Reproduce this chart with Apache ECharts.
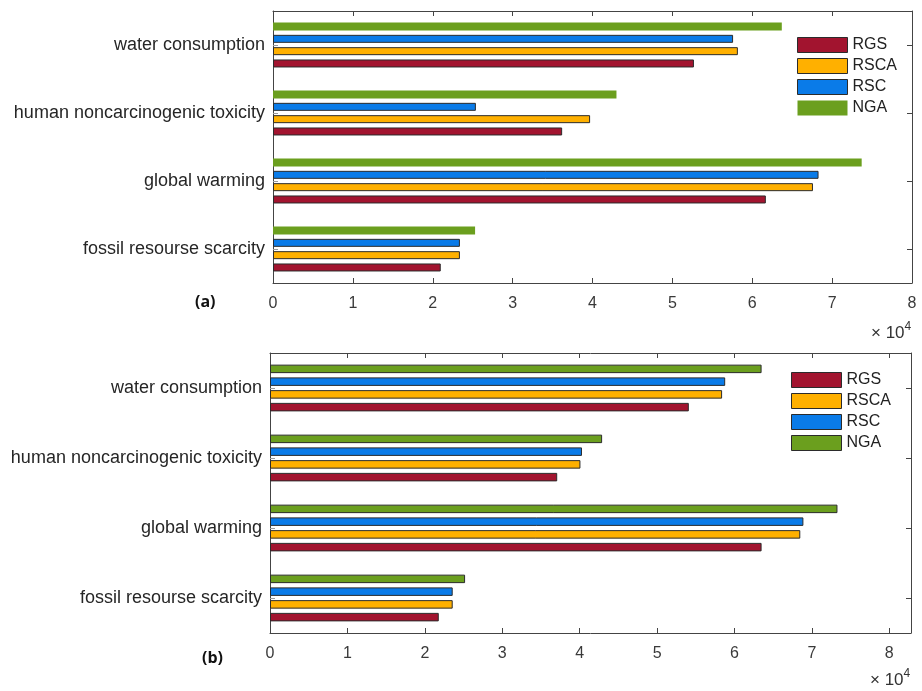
<!DOCTYPE html>
<html>
<head>
<meta charset="utf-8">
<title>Impact categories</title>
<script src="https://cdn.jsdelivr.net/npm/echarts@6/dist/echarts.min.js"></script>
<style>
  html, body { margin: 0; padding: 0; background: #fff; }
  #chart { width: 922px; height: 691px; }
</style>
</head>
<body>
<div id="chart"></div>
<script>
// Impact categories, listed bottom to top as drawn on the category axis
const categories = ['fossil resourse scarcity', 'global warming', 'human noncarcinogenic toxicity', 'water consumption'];
const seriesNames = ['RGS', 'RSCA', 'RSC', 'NGA'];
const seriesColors = ['#A2142F', '#FFB000', '#0A7BE8', '#6B9F1E'];

// Panel (a)
const rgsA  = [21000, 61700, 36200, 52700];
const rscaA = [23400, 67600, 39700, 58200];
const rscA  = [23400, 68300, 25400, 57600];
const ngaA  = [25300, 73700, 43000, 63700];

// Panel (b)
const rgsB  = [21800, 63500, 37100, 54100];
const rscaB = [23600, 68500, 40100, 58400];
const rscB  = [23600, 68900, 40300, 58800];
const ngaB  = [25200, 73300, 42900, 63500];

const xTicks = [0, 1, 2, 3, 4, 5, 6, 7, 8];
const panelLabels = ['(a)', '(b)'];

const axisColor = '#444';
const edgeColor = '#2b2b2b';
const fontFamily = '"Liberation Sans", Arial, sans-serif';

function valueAxis(gridIndex, max, position, showLabels) {
  return {
    type: 'value', gridIndex, position, min: 0, max, interval: 10000,
    axisLine: { show: true, onZero: false, lineStyle: { color: axisColor, width: 1 } },
    axisTick: { show: true, inside: true, length: 5, lineStyle: { color: axisColor } },
    splitLine: { show: false },
    axisLabel: {
      show: showLabels, margin: 13, color: '#3a3a3a', fontSize: 16, fontFamily,
      showMaxLabel: max % 10000 === 0,
      formatter: v => (xTicks.includes(v / 10000) ? String(v / 10000) : '')
    }
  };
}

function categoryAxis(gridIndex, position, showLabels) {
  return {
    type: 'category', gridIndex, position, data: categories,
    axisLine: { show: true, onZero: false, lineStyle: { color: axisColor, width: 1 } },
    axisTick: { show: true, inside: true, length: 5, alignWithLabel: true,
                lineStyle: { color: position === 'left' ? '#9a9a9a' : axisColor } },
    axisLabel: { show: showLabels, margin: 8, color: '#262626', fontSize: 18, fontFamily }
  };
}

function barSeries(name, data, gridIndex, withEdge, barWidth, barGap) {
  const idx = seriesNames.indexOf(name);
  return {
    type: 'bar', name, data,
    xAxisIndex: gridIndex * 2, yAxisIndex: gridIndex * 2,
    barWidth, barGap,
    itemStyle: {
      color: seriesColors[idx],
      borderColor: withEdge ? edgeColor : 'transparent',
      borderWidth: withEdge ? 1 : 0
    },
    emphasis: { disabled: true },
    animation: false
  };
}

function legendFor(left, top, ngaEdge) {
  return {
    orient: 'vertical', left, top, padding: 0,
    itemWidth: 50, itemHeight: 15, itemGap: 5,
    selectedMode: false,
    textStyle: { fontSize: 16, color: '#222', fontFamily, lineHeight: 15 },
    data: seriesNames.map((n, i) => ({
      name: n,
      icon: 'rect',
      itemStyle: {
        color: seriesColors[i],
        borderColor: (i < 3 || ngaEdge) ? edgeColor : 'transparent',
        borderWidth: (i < 3 || ngaEdge) ? 1 : 0
      }
    }))
  };
}

function exponentLabel(left, top) {
  return {
    type: 'text', left, top,
    style: {
      text: '{b|× 10}{s|4}',
      rich: {
        b: { fontSize: 17, fill: '#333', fontFamily, verticalAlign: 'bottom' },
        s: { fontSize: 12, fill: '#333', fontFamily, verticalAlign: 'top', padding: [0, 0, 9, 0] }
      }
    }
  };
}

const chart = echarts.init(document.getElementById('chart'), null, { renderer: 'canvas' });

// Within a group the first series is drawn at the top, so NGA comes first
chart.setOption({
  backgroundColor: '#fff',
  animation: false,
  grid: [
    { left: 273, top: 11, width: 639, height: 272, show: false },
    { left: 270, top: 353, width: 641, height: 280, show: false }
  ],
  xAxis: [
    valueAxis(0, 80000, 'bottom', true),
    valueAxis(0, 80000, 'top', false),
    valueAxis(1, 82800, 'bottom', true),
    valueAxis(1, 82800, 'top', false)
  ],
  yAxis: [
    categoryAxis(0, 'left', true),
    categoryAxis(0, 'right', false),
    categoryAxis(1, 'left', true),
    categoryAxis(1, 'right', false)
  ],
  legend: [
    legendFor(797, 37, false),
    legendFor(791, 372, true)
  ],
  series: [
    barSeries('NGA',  ngaA,  0, false, 8,   '54%'),
    barSeries('RSC',  rscA,  0, true,  8,   '54%'),
    barSeries('RSCA', rscaA, 0, true,  8,   '54%'),
    barSeries('RGS',  rgsA,  0, true,  8,   '54%'),
    barSeries('NGA',  ngaB,  1, true,  8.5, '50%'),
    barSeries('RSC',  rscB,  1, true,  8.5, '50%'),
    barSeries('RSCA', rscaB, 1, true,  8.5, '50%'),
    barSeries('RGS',  rgsB,  1, true,  8.5, '50%')
  ],
  graphic: [
    { type: 'text', left: 195, top: 294,
      style: { text: panelLabels[0], fontSize: 16, fontWeight: 'bold', fill: '#111', fontFamily: '"Open Sans", sans-serif' } },
    { type: 'text', left: 202, top: 650,
      style: { text: panelLabels[1], fontSize: 16, fontWeight: 'bold', fill: '#111', fontFamily: '"Open Sans", sans-serif' } },
    exponentLabel(871, 321),
    exponentLabel(870, 668)
  ]
});
</script>
</body>
</html>
